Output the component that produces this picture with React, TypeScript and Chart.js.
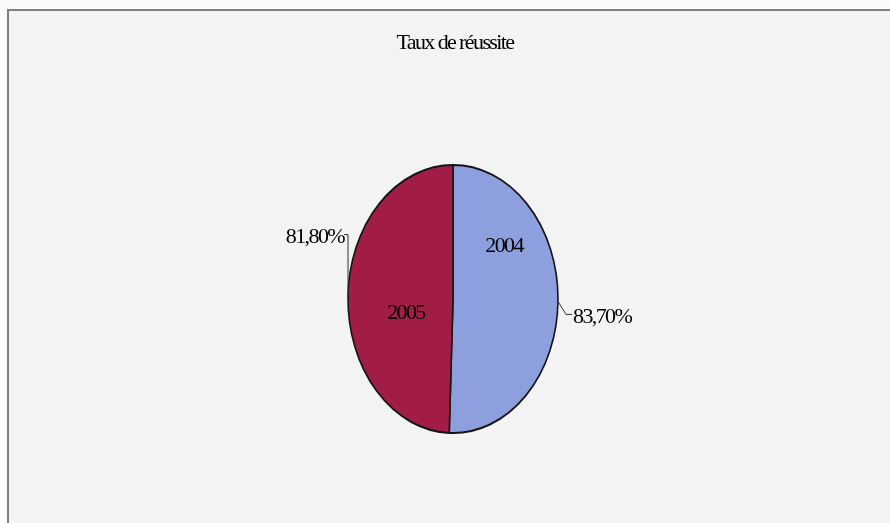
import React, { useEffect, useRef } from "react";
import { Chart, registerables } from "chart.js";

Chart.register(...registerables);

const chartTitle = "Taux de réussite";
const categories = ["2004", "2005"];
const rates = [83.7, 81.8];
const sliceColors = ["#8d9fdd", "#a11d45"];

const RX = 105;
const Y_STRETCH = 134 / 105;
const FONT = "'Liberation Serif', 'DejaVu Serif', serif";

const fmtPct = (v: number) => v.toFixed(2).replace(".", ",") + "%";

// manual placement of in-slice category labels (fraction of radii)
const innerLabelPos = [
  { fx: 0.486, fy: -0.396 },
  { fx: -0.448, fy: 0.104 },
];

const ellipsePlugin = {
  id: "ellipse",
  beforeDatasetsDraw(chart: any) {
    const arc = chart.getDatasetMeta(0).data[0];
    const { x, y } = arc;
    const ctx = chart.ctx;
    ctx.save();
    ctx.translate(x, y);
    ctx.scale(1, Y_STRETCH);
    ctx.translate(-x, -y);
  },
  afterDatasetsDraw(chart: any) {
    chart.ctx.restore();
  },
};

const labelPlugin = {
  id: "labels",
  afterDraw(chart: any) {
    const ctx: CanvasRenderingContext2D = chart.ctx;
    const meta = chart.getDatasetMeta(0);
    const arcs = meta.data;
    const cx = arcs[0].x;
    const cy = arcs[0].y;
    const rx = arcs[0].outerRadius;
    const ry = rx * Y_STRETCH;
    ctx.save();
    (ctx as any).letterSpacing = "-1.6px";
    ctx.fillStyle = "#000";
    ctx.font = `22px ${FONT}`;
    // title
    ctx.textAlign = "center";
    ctx.textBaseline = "alphabetic";
    ctx.fillText(chartTitle, cx + 2, 49);

    ctx.textBaseline = "middle";
    arcs.forEach((arc: any, i: number) => {
      // category label inside slice
      const p = innerLabelPos[i];
      ctx.textAlign = "center";
      ctx.fillStyle = "#000";
      ctx.fillText(categories[i], cx + p.fx * rx, cy + p.fy * ry);

      // percentage label with leader line
      const mid = (arc.startAngle + arc.endAngle) / 2;
      const ax = cx + rx * Math.cos(mid);
      const ay = cy + ry * Math.sin(mid);
      ctx.strokeStyle = "#333";
      ctx.lineWidth = 1;
      ctx.beginPath();
      const txt = fmtPct(rates[i]);
      if (Math.cos(mid) >= 0) {
        const bx = ax + 8;
        const by = ay + 13;
        ctx.moveTo(ax, ay);
        ctx.lineTo(bx, by);
        ctx.lineTo(bx + 6, by);
        ctx.stroke();
        ctx.textAlign = "left";
        ctx.fillText(txt, bx + 7, by + 3);
      } else {
        const by = ay - 62;
        ctx.moveTo(ax, ay);
        ctx.lineTo(ax, by);
        ctx.lineTo(ax - 4, by);
        ctx.stroke();
        ctx.textAlign = "right";
        ctx.fillText(txt, ax - 4, by + 3);
      }
    });
    ctx.restore();
  },
};

export default function App() {
  const ref = useRef<HTMLCanvasElement | null>(null);
  useEffect(() => {
    document.body.style.margin = "0";
    const chart = new Chart(ref.current as HTMLCanvasElement, {
      type: "pie",
      data: {
        labels: categories,
        datasets: [
          {
            data: rates,
            backgroundColor: sliceColors,
            borderColor: "#151515",
            borderWidth: 1.6,
            radius: RX,
          } as any,
        ],
      },
      options: {
        responsive: false,
        animation: false,
        layout: { padding: { left: 16, right: 0, top: 75, bottom: 0 } },
        plugins: {
          legend: { display: false },
          title: { display: false },
          tooltip: { enabled: false },
        },
      },
      plugins: [ellipsePlugin, labelPlugin],
    });
    return () => chart.destroy();
  }, []);
  return (
    <div
      style={{
        position: "relative",
        width: 890,
        height: 523,
        overflow: "hidden",
        background: "#fafafa",
      }}
    >
      <div
        style={{
          position: "absolute",
          left: 7,
          top: 9,
          width: 900,
          height: 600,
          background: "#f3f3f3",
          borderLeft: "2px solid #7e7e7e",
          borderTop: "2px solid #7e7e7e",
        }}
      />
      <canvas
        ref={ref}
        width={890}
        height={523}
        style={{ position: "absolute", left: 0, top: 0 }}
      />
    </div>
  );
}
